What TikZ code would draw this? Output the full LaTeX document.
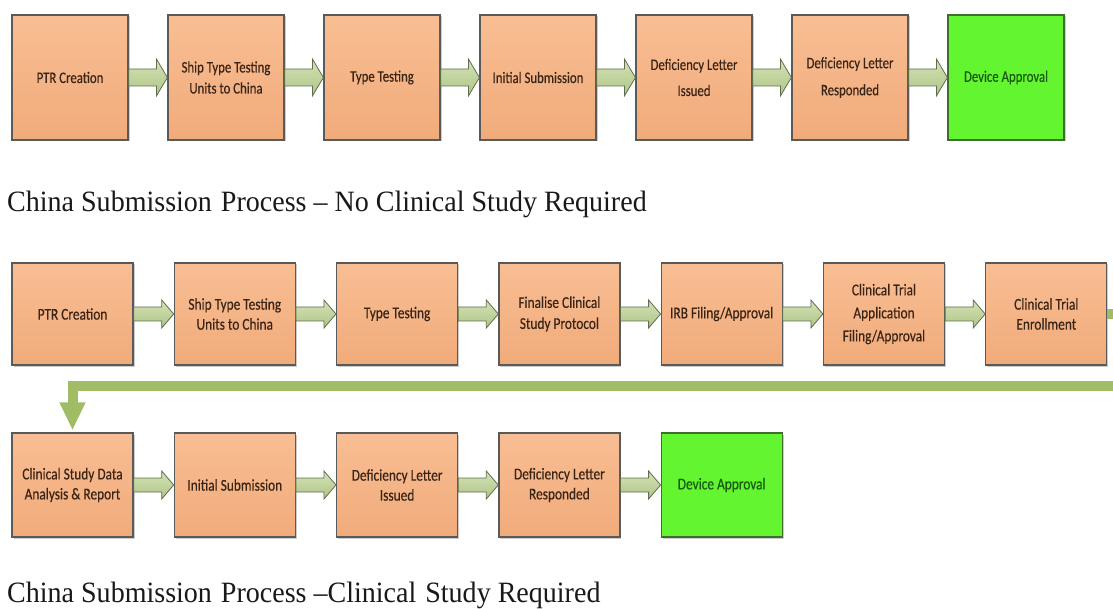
\documentclass[tikz,border=0pt]{standalone}
\usepackage{fontspec}
\usetikzlibrary{calc,arrows.meta,shadows}
\newfontfamily\fontA[FakeStretch=0.80,FakeBold=0.3]{Carlito}
\newfontfamily\fontB[FakeStretch=0.81,FakeBold=0.3]{Carlito}
\newfontfamily\capfont[FakeStretch=0.95]{Liberation Serif}
\definecolor{boxtop}{HTML}{F8BE93}
\definecolor{boxbot}{HTML}{F1AB7B}
\definecolor{boxline}{HTML}{5A5A5A}
\definecolor{boxtext}{HTML}{3A2416}
\definecolor{okfill}{HTML}{62F530}
\definecolor{okline}{HTML}{3F6F2F}
\definecolor{oktext}{HTML}{1A5A12}
\definecolor{arrtop}{HTML}{D4E2B6}
\definecolor{arrbot}{HTML}{AFC586}
\definecolor{arrline}{HTML}{5E6E4E}
\definecolor{retcol}{HTML}{A0BD66}
\tikzset{
  basebox/.style={rectangle, draw=boxline, line width=1.2pt, inner sep=0pt, align=center,
    drop shadow={shadow xshift=1.5pt, shadow yshift=-1.5pt, fill=black, opacity=0.2}},
  orangebox/.style={basebox, top color=boxtop, bottom color=boxbot, text=boxtext},
  greenbox/.style={basebox, fill=okfill, draw=okline, text=oktext},
  rowA/.style={minimum width=116pt, minimum height=125pt},
  rowB/.style={minimum width=121pt, minimum height=102pt},
  rowC/.style={minimum width=121pt, minimum height=104pt},
  lsA/.style={font=\fontA\fontsize{16}{#1}\selectfont},
  lsB/.style={font=\fontB\fontsize{16.5}{#1}\selectfont},
  blockarrow/.style n args={3}{draw=arrline, line width=0.8pt, top color=arrtop, bottom color=arrbot,
    to path={let \p1=(\tikztostart), \p2=(\tikztotarget) in
      (\x1,\y1+#1) -- (\x2-#3,\y1+#1) -- (\x2-#3,\y1+#2) -- (\x2,\y1)
      -- (\x2-#3,\y1-#2) -- (\x2-#3,\y1-#1) -- (\x1,\y1-#1) -- cycle}},
  arrA/.style={blockarrow={8.5pt}{18.5pt}{11pt}},
  arrB/.style={blockarrow={7pt}{14pt}{12pt}},
  retline/.style={draw=retcol, line width=10pt, line join=miter, shorten >=2pt,
    -{Triangle[width=24pt,length=28pt]}},
  captext/.style={font=\capfont\fontsize{29.5}{34}\selectfont, inner sep=0pt, text=black!90}
}
\begin{document}
\begin{tikzpicture}[x=1pt,y=-1pt]
\useasboundingbox (0,0) rectangle (1113,609);
\clip (0,0) rectangle (1113,609);
\fill[white] (0,0) rectangle (1113,609);

% Row 1
\node[orangebox, rowA, lsA=20] (a1) at (70,77.5) {PTR Creation};
\node[orangebox, rowA, lsA=21] (a2) at (226,77.5) {Ship Type Testing\\Units to China};
\node[orangebox, rowA, lsA=20] (a3) at (382,77.5) {Type Testing};
\node[orangebox, rowA, lsA=20] (a4) at (538,77.5) {Initial Submission};
\node[orangebox, rowA, lsA=26] (a5) at (694,77.5) {Deficiency Letter\\Issued};
\node[orangebox, rowA, lsA=27] (a6) at (850,77.5) {Deficiency Letter\\Responded};
\node[greenbox, rowA, lsA=20] (a7) at (1006,77.5) {Device Approval};
\foreach \i/\j in {a1/a2,a2/a3,a3/a4,a4/a5,a5/a6,a6/a7}
  \draw[arrA] (\i.east) to (\j.west);

\node[captext, anchor=base west] (cap1) at (7,212) {China Submission\hspace{2pt} Process – No Clinical Study Required};

% Row 2
\node[orangebox, rowB, lsB=20] (b1) at (72.5,314) {PTR Creation};
\node[orangebox, rowB, lsB=20] (b2) at (234.8,314) {Ship Type Testing\\Units to China};
\node[orangebox, rowB, lsB=20] (b3) at (397.1,314) {Type Testing};
\node[orangebox, rowB, lsB=21] (b4) at (559.4,314) {Finalise Clinical\\Study Protocol};
\node[orangebox, rowB, lsB=20] (b5) at (721.7,314) {IRB Filing/Approval};
\node[orangebox, rowB, lsB=23] (b6) at (884,314) {Clinical Trial\\Application\\Filing/Approval};
\node[orangebox, rowB, lsB=20] (b7) at (1046.3,314) {Clinical Trial\\Enrollment};
\foreach \i/\j in {b1/b2,b2/b3,b3/b4,b4/b5,b5/b6,b6/b7}
  \draw[arrB] (\i.east) to (\j.west);

% Row 3
\node[orangebox, rowC, lsB=20] (c1) at (72.5,485) {Clinical Study Data\\Analysis \& Report};
\node[orangebox, rowC, lsB=20] (c2) at (234.8,485) {Initial Submission};
\node[orangebox, rowC, lsB=20] (c3) at (397.1,485) {Deficiency Letter\\Issued};
\node[orangebox, rowC, lsB=20] (c4) at (559.4,485) {Deficiency Letter\\Responded};
\node[greenbox, rowC, lsB=20] (c5) at (721.7,485) {Device Approval};
\foreach \i/\j in {c1/c2,c2/c3,c3/c4,c4/c5}
  \draw[arrB] (\i.east) to (\j.west);

% Return connector
\coordinate (rt) at (1119,386);
\draw[retline] (b7.east) -| (rt) -| (c1.north);

\node[captext, anchor=base west] (cap2) at (7,602) {China Submission\hspace{2pt} Process –Clinical\hspace{2pt} Study Required};
\end{tikzpicture}
\end{document}
